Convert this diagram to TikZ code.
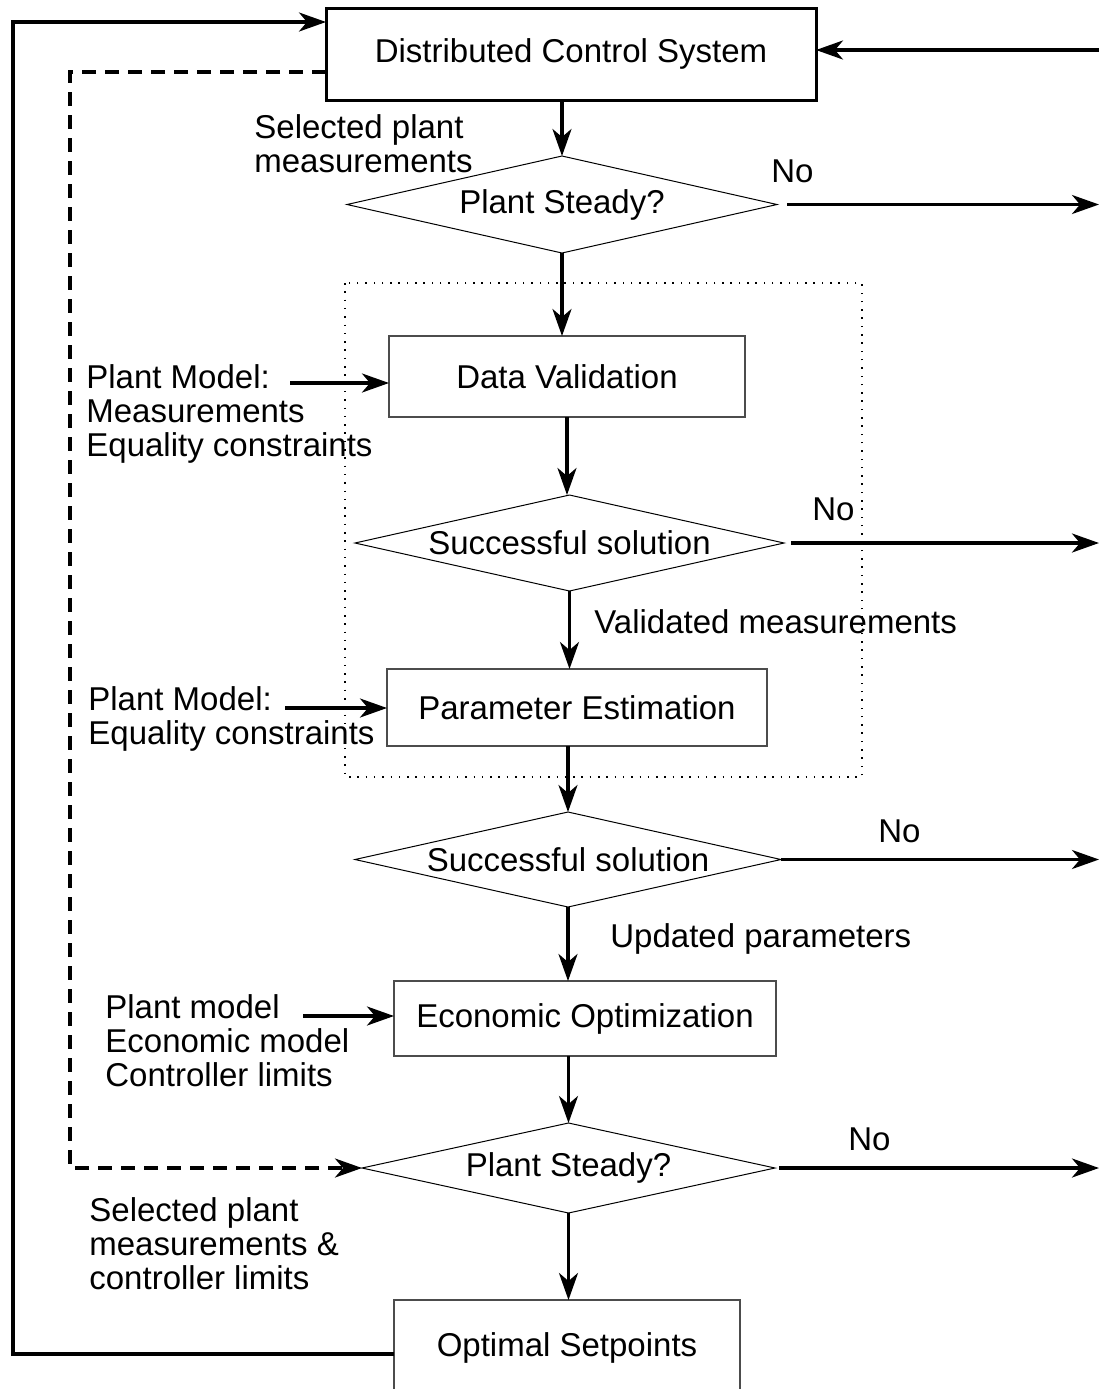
\documentclass[tikz,border=0pt]{standalone}
\usepackage{fontspec}
\setmainfont{Liberation Sans}
\usetikzlibrary{shapes.geometric, arrows.meta}

\begin{document}
\begin{tikzpicture}[x=.5pt, y=-.5pt,
		every node/.style={font=\fontsize{16.5pt}{17pt}\selectfont},
		caja/.style={rectangle, draw=black!70, line width=.75pt, inner sep=0pt, outer sep=0pt},
		decision/.style={diamond, draw, line width=.5pt, inner sep=0pt, outer sep=0pt},
		texto/.style={anchor=north west, inner sep=0pt, align=left},
		flecha/.style={line width=1.6pt, -{Stealth[length=13.5pt, width=9.5pt, inset=4pt]}}]
		\useasboundingbox (0,0) rectangle (1099,1389);
		\clip (0,0) rectangle (1099,1389);
		
		% Bloques
		\node[caja, draw=black, line width=1.5pt, minimum width=245pt, minimum height=46pt] (dcs) at (571,54) {Distributed Control System};
		\node[caja, minimum width=178pt, minimum height=40.5pt] (dv) at (567,376.5) {Data Validation};
		\node[caja, minimum width=190pt, minimum height=38.5pt] (pe) at (577,707.5) {Parameter Estimation};
		\node[caja, minimum width=191pt, minimum height=37.5pt] (eo) at (585,1018.5) {Economic Optimization};
		\node[caja, minimum width=173pt, minimum height=48pt] (os) at (567,1348) {Optimal Setpoints};
		
		% Decisiones
		\node[decision, aspect=4.43, minimum width=215pt, minimum height=48.5pt] (ps1) at (562,204.5) {Plant Steady?};
		\node[decision, aspect=4.47, minimum width=214.5pt, minimum height=48pt] (ss1) at (569.5,543) {Successful solution};
		\node[decision, aspect=4.48, minimum width=213pt, minimum height=47.5pt] (ss2) at (568,859.5) {Successful solution};
		\node[decision, aspect=4.59, minimum width=206.5pt, minimum height=45pt] (ps2) at (568.5,1168) {Plant Steady?};
		
		% Recuadro punteado
		\draw[line width=.75pt, dash pattern=on .75pt off 3.4pt] (345,283) rectangle (862,777);
		
		% Flechas
		\draw[flecha] (ps1.north |- dcs.south) -- (ps1.north);
		\draw[flecha] (ps1.south) -- (ps1.south |- dv.north);
		\draw[flecha] (dv.south) -- (dv.south |- ss1.north);
		\draw[flecha] (ss1.south) -- (ss1.south |- pe.north);
		\draw[flecha] (ss2.north |- pe.south) -- (ss2.north);
		\draw[flecha] (ss2.south) -- (ss2.south |- eo.north);
		\draw[flecha] (ps2.north |- eo.south) -- (ps2.north);
		\draw[flecha] (ps2.south) -- (ps2.south |- os.north);
		
		\coordinate (der) at (1099,0);
		\coordinate (entra) at (1099,50);
		\draw[flecha] ([xshift=5pt]ps1.east) -- (ps1.east -| der);
		\draw[flecha] ([xshift=3.5pt]ss1.east) -- (ss1.east -| der);
		\draw[flecha] (ss2.east) -- (ss2.east -| der);
		\draw[flecha] ([xshift=2pt]ps2.east) -- (ps2.east -| der);
		\draw[flecha] (entra) -- (entra -| dcs.east);
		
		% Lazo de vuelta
		\coordinate (lazo) at (13,22);
		\draw[flecha] ([yshift=-3pt]os.west) -| (lazo) -- (lazo -| dcs.west);
		\coordinate (esq) at (70,1168);
		\draw[flecha, dash pattern=on 7pt off 4.5pt] ([yshift=-9pt]dcs.west) -| (esq) -- (ps2.west);
		
		% Entradas
		\coordinate (m1) at (290,383);
		\coordinate (m2) at (285,708);
		\coordinate (m3) at (303,1016);
		\draw[flecha] (m1) -- (m1 -| dv.west);
		\draw[flecha] (m2) -- (m2 -| pe.west);
		\draw[flecha] (m3) -- (m3 -| eo.west);
		
		% Textos
		\node[texto] (sel1) at (254,114) {Selected plant\\measurements};
		\node[texto] (mod1) at (86,364) {Plant Model:\\Measurements\\Equality constraints};
		\node[texto] (mod2) at (88,686) {Plant Model:\\Equality constraints};
		\node[texto] (mod3) at (105,994) {Plant model\\Economic model\\Controller limits};
		\node[texto] (sel2) at (89,1197) {Selected plant\\measurements \&\\controller limits};
		\node[texto] (val) at (594,609) {Validated measurements};
		\node[texto] (upd) at (610,923) {Updated parameters};
		\node[texto] (no1) at (771,159) {No};
		\node[texto] (no2) at (812,497) {No};
		\node[texto] (no3) at (878,819) {No};
		\node[texto] (no4) at (848,1127) {No};
	\end{tikzpicture}
\end{document}
